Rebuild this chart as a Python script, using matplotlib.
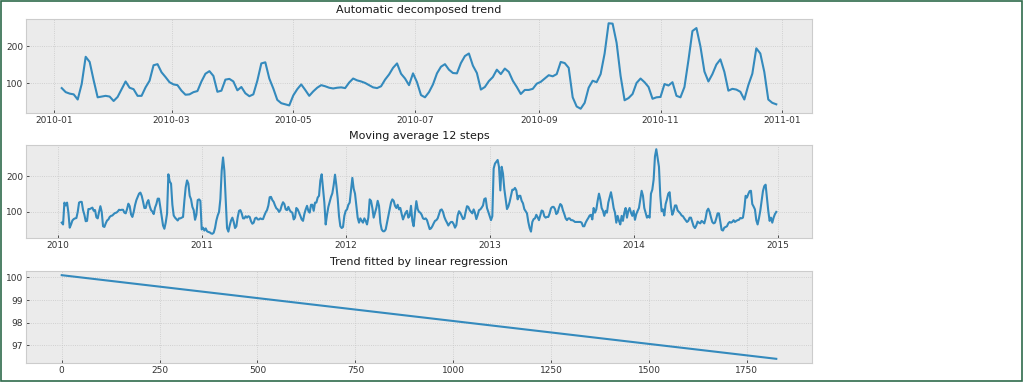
import matplotlib
matplotlib.use('Agg')
import matplotlib.pyplot as plt
import matplotlib.dates as mdates
import pandas as pd
from matplotlib.patches import Rectangle

# ---------------- data ----------------
titles = ['Automatic decomposed trend', 'Moving average 12 steps',
          'Trend fitted by linear regression']

trend_start = '2010-01-05'
trend_vals = [87, 76, 72, 70, 56, 98, 172, 158, 108, 62, 64, 66, 64, 52, 63, 84, 105, 88, 84, 66,
              66, 89, 107, 149, 152, 130, 117, 103, 97, 95, 80, 69, 70, 76, 79, 105, 126, 133, 120, 77,
              80, 110, 112, 105, 81, 90, 73, 65, 70, 107, 154, 157, 113, 86, 55, 46, 43, 40, 67, 84,
              97, 82, 66, 78, 88, 95, 92, 88, 86, 88, 89, 87, 102, 113, 108, 105, 101, 95, 89, 87,
              92, 110, 124, 142, 154, 126, 113, 95, 127, 103, 68, 62, 76, 97, 127, 145, 152, 137, 128, 127,
              155, 174, 181, 148, 128, 83, 90, 106, 117, 137, 125, 140, 131, 107, 90, 71, 82, 82, 85, 99,
              104, 113, 122, 119, 125, 158, 155, 142, 62, 37, 31, 47, 88, 107, 103, 125, 181, 263, 262, 210,
              120, 54, 60, 71, 101, 113, 103, 90, 58, 62, 63, 98, 94, 103, 66, 62, 90, 163, 242, 250,
              200, 132, 105, 125, 151, 165, 131, 80, 85, 83, 77, 56, 95, 126, 195, 181, 131, 56, 47, 43]

ma_start = '2010-01-11'
ma_end = '2014-12-28'
ma_vals = [
    # 2010
    70, 65, 126, 118, 126, 98, 56, 65, 76, 80, 82, 83, 100, 126, 128, 128, 105, 92, 74, 75,
    108, 108, 110, 112, 103, 105, 85, 82, 100, 116, 100, 60, 58, 68, 76, 79, 86, 89, 90, 94,
    97, 98, 101, 106, 105, 106, 106, 98, 96, 108, 123, 116, 93, 86, 100, 119, 133, 142, 151, 154,
    145, 129, 111, 111, 126, 133, 116, 105, 101, 94, 112, 122, 137, 137, 112, 86, 62, 53, 70, 95,
    205, 185, 179,
    # 2010-11 .. 2011-10
    120, 90, 84, 80, 76, 82, 82, 84, 86, 131, 169, 188, 179, 145, 135, 114, 105, 78, 92, 133,
    135, 131, 51, 56, 48, 54, 46, 44, 43, 40, 39, 42, 55, 76, 90, 100, 136, 215, 252, 215,
    135, 55, 45, 62, 76, 84, 72, 55, 60, 85, 103, 105, 96, 82, 82, 88, 84, 88, 86, 74,
    67, 70, 82, 84, 79, 79, 82, 80, 80, 90, 99, 105, 118, 141, 142, 133, 128, 118, 110, 107,
    100, 105, 118, 127, 122, 107, 105, 114, 105, 100,
    # 2011-10 .. 2012-10
    98, 79, 84, 111, 107, 98, 89, 79, 75, 94, 107, 117, 103, 98, 120, 120, 103, 126, 126, 140,
    145, 188, 205, 165, 126, 65, 92, 114, 128, 142, 152, 175, 204, 174, 138, 88, 60, 55, 58, 89,
    103, 107, 120, 126, 162, 195, 165, 151, 117, 84, 70, 82, 75, 70, 82, 75, 65, 84, 135, 131,
    111, 84, 98, 111, 131, 117, 70, 51, 46, 46, 51, 70, 89, 107, 126, 135, 131, 117, 111, 120,
    107, 111, 94, 79, 89, 98, 103, 84, 89, 117,
    # 2012-10 .. 2013-10
    75, 60, 98, 130, 108, 100, 98, 92, 82, 80, 82, 77, 65, 52, 54, 60, 68, 75, 77, 82,
    94, 105, 107, 100, 86, 77, 70, 62, 68, 72, 72, 66, 56, 63, 90, 102, 97, 89, 80, 82,
    100, 116, 114, 105, 100, 96, 107, 97, 80, 91, 105, 107, 112, 118, 136, 138, 111, 100, 88, 77,
    88, 221, 235, 240, 245, 226, 160, 226, 207, 164, 135, 108, 115, 128, 145, 162, 162, 167, 160, 135,
    145, 145, 131, 124, 108, 102, 96, 72, 55, 45,
    # 2013-04 .. 2014-02
    72, 80, 82, 92, 85, 77, 91, 104, 102, 88, 84, 86, 86, 96, 110, 114, 114, 108, 94, 98,
    112, 122, 118, 104, 94, 82, 77, 82, 82, 77, 77, 75, 72, 72, 72, 72, 72, 70, 60, 60,
    70, 77, 83, 90, 92, 79, 111, 98, 107, 131, 151, 135, 111, 103, 89, 103, 98, 126, 140, 155,
    135, 111, 98, 70, 89, 75, 65, 89, 75, 98, 111, 84, 103, 111, 98, 89, 103, 78, 94, 103,
    111, 135, 159, 145, 111, 98, 84, 89, 84, 151,
    # 2014-02 .. 2014-12
    162, 190, 255, 275, 250, 226, 145, 102, 107, 90, 122, 135, 151, 155, 115, 92, 102, 118, 118, 104,
    100, 96, 90, 88, 82, 77, 72, 75, 84, 84, 72, 60, 55, 62, 73, 70, 68, 75, 72, 68,
    82, 103, 109, 100, 85, 72, 68, 70, 82, 96, 96, 72, 50, 48, 56, 58, 60, 68, 72, 70,
    72, 77, 72, 75, 77, 78, 83, 82, 84, 108, 145, 140, 150, 158, 159, 122, 115, 107, 77, 65,
    82, 103, 131, 158, 172, 176, 140, 103, 75, 84, 70, 84, 94, 100]

lin_x = [0, 1825]
lin_y = [100.10, 96.40]

trend_dates = pd.date_range(trend_start, periods=len(trend_vals), freq='2D')
ma_dates = pd.date_range(ma_start, ma_end, periods=len(ma_vals))

# ---------------- plot ----------------
plt.style.use('bmh')
W, H = 1024, 382
fig = plt.figure(figsize=(W / 100, H / 100), dpi=100)
fig.patch.set_facecolor('white')

def px_axes(left, top, right, bottom):
    return fig.add_axes([left / W, 1 - bottom / H, (right - left) / W, (bottom - top) / H])

ax1 = px_axes(26, 19, 812, 113)
ax2 = px_axes(26, 145, 812, 238)
ax3 = px_axes(26, 271, 812, 363)

line_color = '#348ABD'
lw = 1.5

ax1.plot(trend_dates, trend_vals, color=line_color, lw=lw)
ax1.xaxis.set_major_locator(mdates.MonthLocator(bymonth=[1, 3, 5, 7, 9, 11]))
ax1.xaxis.set_major_formatter(mdates.DateFormatter('%Y-%m'))
ax1.set_yticks([100, 200])

ax2.plot(ma_dates, ma_vals, color=line_color, lw=lw)
ax2.xaxis.set_major_locator(mdates.YearLocator())
ax2.xaxis.set_major_formatter(mdates.DateFormatter('%Y'))
ax2.set_yticks([100, 200])

ax3.plot(lin_x, lin_y, color=line_color, lw=lw)
ax3.set_xticks([0, 250, 500, 750, 1000, 1250, 1500, 1750])
ax3.set_yticks([97, 98, 99, 100])
ax3.set_xlim(-91.25, 1916.25)

for ax, t in zip([ax1, ax2, ax3], titles):
    ax.set_title(t, fontsize=8, pad=4, color='#1a1a1a')
    ax.set_facecolor('#ebebeb')
    ax.tick_params(labelsize=6.5, length=2.5, width=0.6, colors='#333333', pad=2)
    ax.grid(True, color='#c8c8c8', linestyle=':', linewidth=0.6)
    for s in ax.spines.values():
        s.set_color('#cccccc')
        s.set_linewidth(0.8)

# screenshot frame
fig.add_artist(Rectangle((0.001, 0.002), 0.997, 0.995, transform=fig.transFigure,
                         fill=False, edgecolor='#2f6b4c', linewidth=1.2))

fig.savefig('out.png', dpi=100, facecolor='white')
